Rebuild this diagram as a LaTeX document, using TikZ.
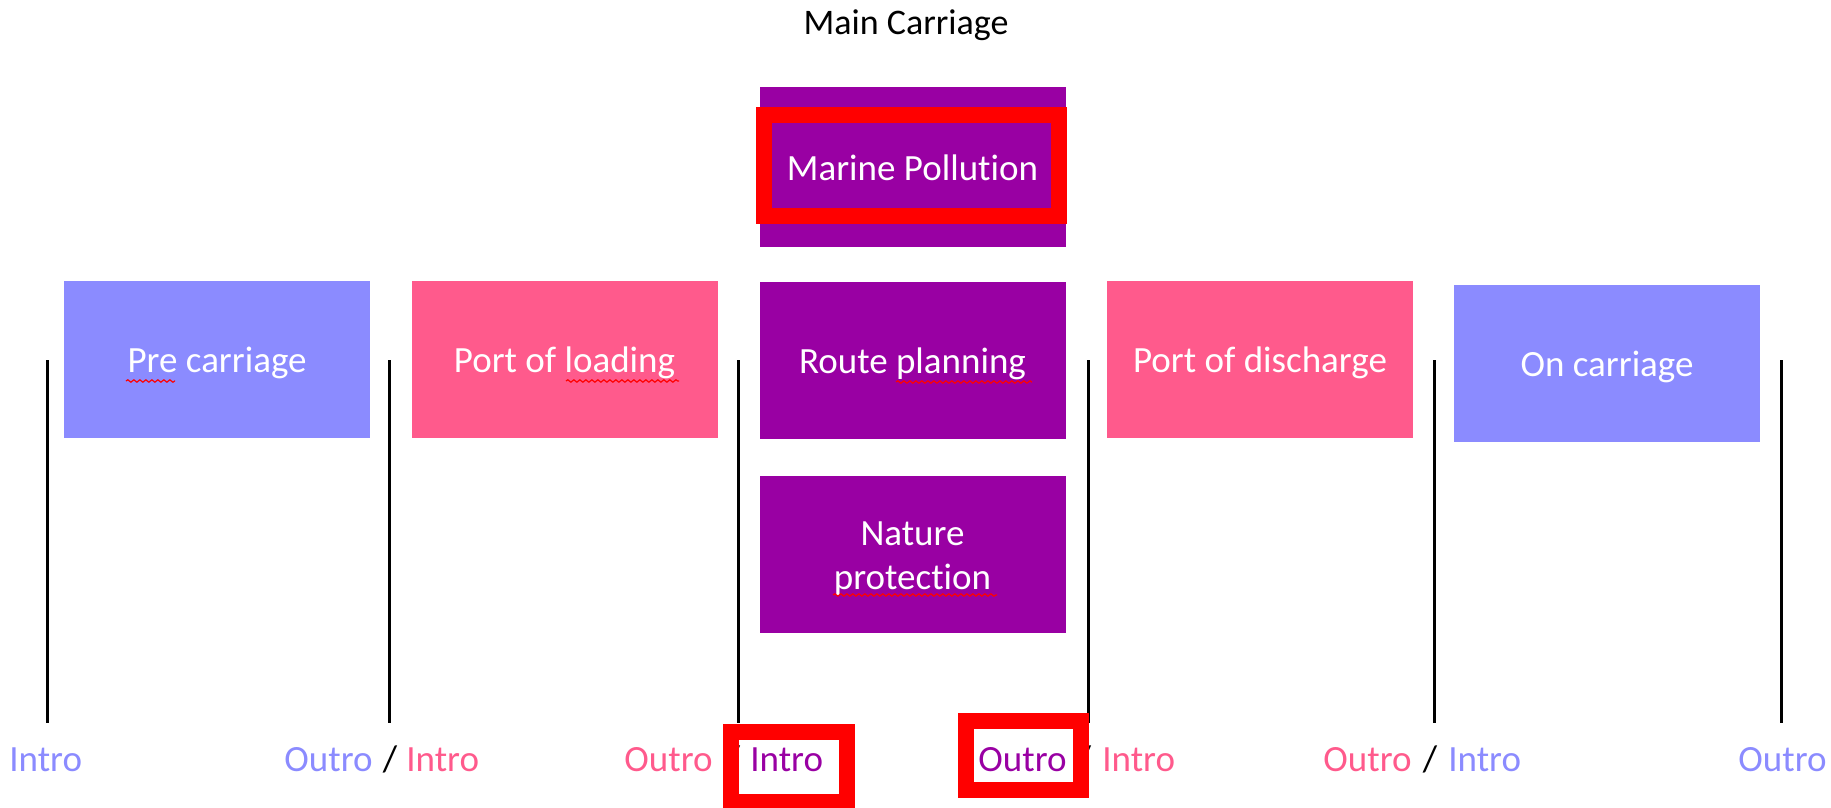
\documentclass[tikz,border=0pt]{standalone}
\usepackage{fontspec}
\setmainfont{Carlito}[Ligatures={NoCommon,NoRare}]
\usetikzlibrary{decorations.pathmorphing}
\definecolor{carrblue}{RGB}{139,139,255}
\definecolor{portpink}{RGB}{255,90,140}
\definecolor{mainpurple}{RGB}{153,0,163}

\begin{document}
\begin{tikzpicture}[x=0.5pt, y=-0.5pt,
    leg/.style={rectangle, minimum width=153pt, minimum height=78.5pt, inner sep=0pt,
        text height=16.6pt, text depth=3.2pt,
        text=white, align=center, font=\fontsize{18.5}{22}\selectfont},
    lbl/.style={anchor=base west, inner sep=0pt, font=\fontsize{18.5}{22}\selectfont},
    hilite/.style={draw=red, line width=8pt},
    wavy/.style={draw=red, line width=0.6pt, decorate,
        decoration={snake, amplitude=0.6pt, segment length=3pt}}]
    \useasboundingbox (0,0) rectangle (1831,808);

    \node[anchor=base, inner sep=0pt, font=\fontsize{18}{22}\selectfont] (title) at (906,35) {Main Carriage};

    % legs of the transport
    \node[leg, fill=carrblue] (pre) at (217,359.5) {Pre carriage};
    \node[leg, fill=portpink] (pol) at (564.5,359.5) {Port of loading};
    \node[leg, fill=mainpurple, minimum height=80pt] (marine) at (912.5,167) {Marine Pollution};
    \node[leg, fill=mainpurple] (route) at (912.5,360) {Route planning};
    \node[leg, fill=mainpurple, text height=38.6pt] (nature) at (912.5,554) {Nature\\protection};
    \node[leg, fill=portpink] (pod) at (1260,359.5) {Port of discharge};
    \node[leg, fill=carrblue] (onc) at (1607,363) {On carriage};

    \foreach \x in {47,389,738,1088,1434,1781}
        \draw[line width=1.5pt] (\x,360) -- (\x,723);

    % intro / outro labels
    \node[lbl, text=carrblue] (in1) at (9,771) {Intro};
    \node[lbl, anchor=base east, text=carrblue] (out1) at (373,771) {Outro};
    \node[lbl, anchor=base] (sl1) at (390,771) {/};
    \node[lbl, text=portpink] (in2) at (406,771) {Intro};
    \node[lbl, anchor=base east, text=portpink] (out2) at (713,771) {Outro};
    \node[lbl, anchor=base] (sl2) at (733,771) {/};
    \node[lbl, text=mainpurple] (in3) at (750,771) {Intro};
    \node[lbl, anchor=base east, text=mainpurple] (out3) at (1067,771) {Outro};
    \node[lbl, anchor=base] (sl3) at (1084,771) {/};
    \node[lbl, text=portpink] (in4) at (1102,771) {Intro};
    \node[lbl, anchor=base east, text=portpink] (out4) at (1412,771) {Outro};
    \node[lbl, anchor=base] (sl4) at (1430,771) {/};
    \node[lbl, text=carrblue] (in5) at (1448,771) {Intro};
    \node[lbl, anchor=base east, text=carrblue] (out5) at (1827,771) {Outro};

    % highlights
    \draw[hilite] (764,115) rectangle (1059,216);
    \draw[hilite] (731,732) rectangle (847,802);
    \draw[hilite] (966,721) rectangle (1081,790);

    \draw[wavy] (126,381) -- (175,381);
    \draw[wavy] (566,381) -- (679,381);
    \draw[wavy] (896,382) -- (1032,382);
    \draw[wavy] (833,595) -- (997,595);
\end{tikzpicture}
\end{document}
